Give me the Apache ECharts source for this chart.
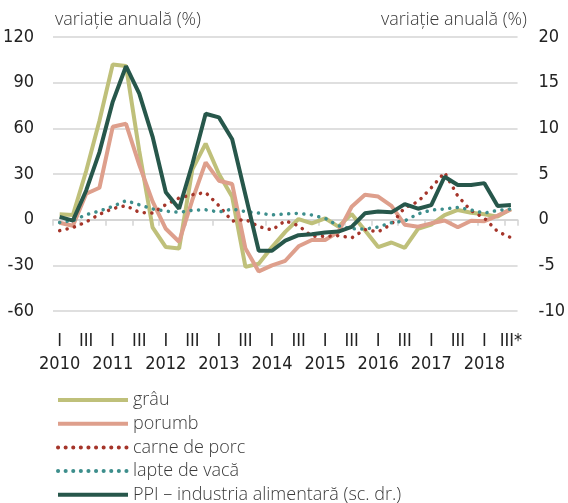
<!DOCTYPE html>
<html>
<head>
<meta charset="utf-8">
<script src="https://cdn.jsdelivr.net/npm/echarts@6/dist/echarts.min.js"></script>
<style>
html,body{margin:0;padding:0;background:#fff;}
#c{width:568px;height:503px;}
</style>
</head>
<body>
<div id="c"></div>
<script>
// ---- data ----
const years = ['2010','2011','2012','2013','2014','2015','2016','2017','2018'];
const quarterMarks = ['I','','III',''];
const lastMark = 'III*';
const nQuarters = 35; // 2010 Q1 .. 2018 Q3

const grau = [3.5, 3, 32, 65, 102, 101, 45, -5, -18, -19, 33, 50, 30, 15, -31, -29, -18, -8, 0.4, -2.4, 0.9, -4.6, 3.7, -7, -18, -15, -18.5, -6, -3.3, 3, 6.4, 4.5, 3.5, 2, 7];
const porumb = [-2, -4, 17, 21, 61, 63, 36, 12, -6, -14.5, 13, 37.6, 25.6, 23.4, -19, -34, -30, -27, -17.5, -13.4, -13.4, -8, 8.5, 16.3, 15.2, 9, -3.3, -4.6, -2.4, -0.5, -5, -0.7, -1, 2.7, 6.8];
const carne = [-7.2, -5.2, -1.5, 3.5, 7.3, 9.2, 4.8, 4.3, 9.9, 14.2, 16.4, 17.8, 9.2, -1, 0.2, -4.5, -6.8, -0.7, -4, -10.8, -11, -10.5, -12, -6.5, -8, -3, 8, 11.8, 21, 31, 15.5, 5.9, 1, -7.8, -11.8];
const lapte = [-1.8, -0.6, 3.3, 5.7, 8.7, 12.5, 9.8, 7, 5.6, 4.8, 6.2, 6.5, 5, 7, 5.3, 4.3, 3.1, 3.7, 4.2, 3.1, 0.9, -4, -6, -6.2, -4.8, -2, -0.8, 3.8, 6.3, 7, 8.1, 6.4, 4.3, 6.1, 7];
const ppi = [0.3, -0.1, 3.2, 7.4, 12.9, 16.8, 13.8, 9.1, 3.0, 1.2, 6.1, 11.6, 11.2, 8.8, 2.7, -3.4, -3.4, -2.3, -1.7, -1.6, -1.4, -1.3, -0.8, 0.7, 0.9, 0.8, 1.7, 1.2, 1.6, 4.7, 3.8, 3.8, 4.0, 1.5, 1.6];

const names = ['grâu','porumb','carne de porc','lapte de vacă','PPI – industria alimentară (sc. dr.)'];
const leftAxisTitle = 'variație anuală (%)';
const rightAxisTitle = 'variație anuală (%)';

// categories
const categories = [];
for (let i = 0; i < nQuarters; i++) {
  const y = years[Math.floor(i / 4)];
  const q = i % 4;
  let lab = quarterMarks[q];
  if (i === nQuarters - 1) lab = lastMark;
  if (q === 0) lab = lab + '\n' + y;
  categories.push(lab);
}

const narrow = '"Liberation Sans Narrow", "DejaVu Sans Condensed", "Roboto Condensed", sans-serif';
const textFont = '"Open Sans", "Noto Sans", sans-serif';
const gridColor = '#d4d4d4';

const legends = names.map((n, k) => ({
  orient: 'vertical', left: 56, top: 391 + k * 23.7, padding: 0,
  itemWidth: 70, itemHeight: 14,
  itemStyle: {opacity: 0},
  lineStyle: {width: 4},
  textStyle: {fontFamily: textFont, fontSize: 18, fontWeight: 300, color: '#3a3a3a'},
  data: [n]
}));

const chart = echarts.init(document.getElementById('c'), null, {renderer: 'canvas'});
chart.setOption({
  animation: false,
  backgroundColor: '#fff',
  title: [
    {text: leftAxisTitle, left: 55, top: 11, padding: 0,
     textStyle: {fontFamily: textFont, fontSize: 18, fontWeight: 300, color: '#3a3a3a'}},
    {text: rightAxisTitle, right: 41, top: 11, padding: 0,
     textStyle: {fontFamily: textFont, fontSize: 18, fontWeight: 300, color: '#3a3a3a'}}
  ],
  grid: {left: 53, right: 41, top: 37, height: 274, containLabel: false},
  legend: legends,
  xAxis: [
    {
      type: 'category', data: categories, boundaryGap: true, position: 'bottom',
      axisLine: {show: false, onZero: false}, axisTick: {show: false}, splitLine: {show: false},
      axisLabel: {interval: 0, fontFamily: narrow, fontSize: 18, lineHeight: 23, margin: 19, color: '#222'}
    },
    {
      type: 'category', data: categories, boundaryGap: true, position: 'top',
      axisLine: {show: true, onZero: true, lineStyle: {color: gridColor, width: 1.5}},
      axisTick: {show: true, interval: 1, inside: true, length: 6, lineStyle: {color: gridColor, width: 1.5}},
      axisLabel: {show: false}, splitLine: {show: false}
    }
  ],
  yAxis: [
    {
      type: 'value', min: -60, max: 120, interval: 30, position: 'left',
      axisLine: {show: false}, axisTick: {show: false},
      splitLine: {show: true, lineStyle: {color: gridColor, width: 1.5}},
      axisLabel: {fontFamily: narrow, fontSize: 18, margin: 19, color: '#222'}
    },
    {
      type: 'value', min: -10, max: 20, interval: 5, position: 'right',
      axisLine: {show: false}, axisTick: {show: false}, splitLine: {show: false},
      axisLabel: {fontFamily: narrow, fontSize: 18, margin: 21, color: '#222', align: 'left'}
    }
  ],
  series: [
    {name: names[0], type: 'line', data: grau, symbol: 'none', xAxisIndex: 0, yAxisIndex: 0,
     color: '#bfc07a', lineStyle: {width: 4, color: '#bfc07a'}},
    {name: names[1], type: 'line', data: porumb, symbol: 'none', xAxisIndex: 0, yAxisIndex: 0,
     color: '#de9f8c', lineStyle: {width: 4, color: '#de9f8c'}},
    {name: names[2], type: 'line', data: carne, symbol: 'none', xAxisIndex: 0, yAxisIndex: 0,
     color: '#a5352a', lineStyle: {width: 3.5, color: '#a5352a', type: [0.1, 7.5], cap: 'round'}},
    {name: names[3], type: 'line', data: lapte, symbol: 'none', xAxisIndex: 0, yAxisIndex: 0,
     color: '#3d8e8c', lineStyle: {width: 3.5, color: '#3d8e8c', type: [0.1, 7.5], cap: 'round'}},
    {name: names[4], type: 'line', data: ppi, symbol: 'none', xAxisIndex: 0, yAxisIndex: 1,
     color: '#27574b', lineStyle: {width: 4, color: '#27574b'}}
  ]
});
</script>
</body>
</html>
